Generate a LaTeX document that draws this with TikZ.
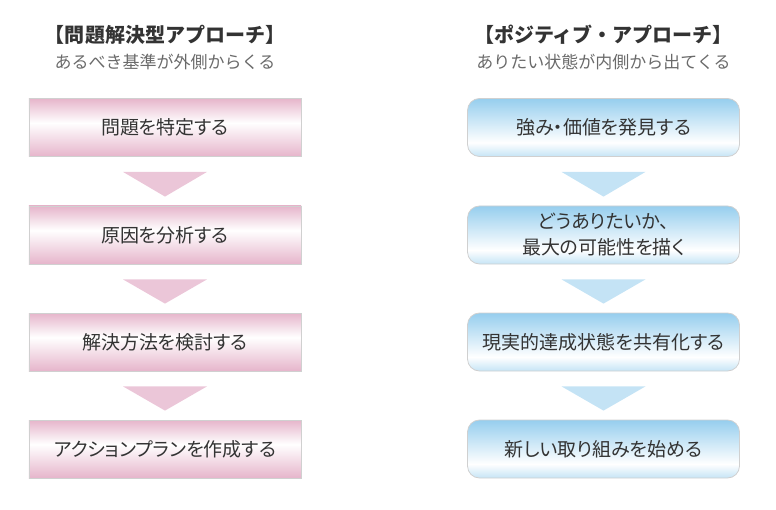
\documentclass[tikz,border=0pt]{standalone}
\usepackage{fontspec}
\setmainfont{Noto Sans CJK JP}
\newfontfamily\boxfont[RawFeature=+palt]{Noto Sans CJK JP}
\usetikzlibrary{calc}
\definecolor{pinkD}{HTML}{E6B5CB}
\definecolor{pinkTri}{HTML}{EBC6D8}
\definecolor{blueD}{HTML}{96CEEE}
\definecolor{blueTri}{HTML}{C4E3F5}
\definecolor{frame}{HTML}{D0D0D0}
\definecolor{ink}{HTML}{333333}
\definecolor{subink}{HTML}{6A6A6A}
\pgfdeclareverticalshading{pinkbar}{100bp}{color(0bp)=(pinkD); color(25bp)=(pinkD); color(54bp)=(white); color(75bp)=(pinkD); color(100bp)=(pinkD)}
\pgfdeclareverticalshading{bluebar}{100bp}{color(0bp)=(blueD!55); color(25bp)=(blueD!55); color(37bp)=(white); color(75bp)=(blueD); color(100bp)=(blueD)}

\begin{document}
\begin{tikzpicture}[x=1bp,y=-1bp,
    title/.style={text=ink,font=\fontsize{20bp}{24bp}\selectfont\bfseries},
    subtitle/.style={text=subink,font=\fontsize{17bp}{20bp}\selectfont},
    pinkbox/.style={draw=frame,line width=0.8bp,shading=pinkbar,minimum width=272bp,minimum height=58bp,
      inner sep=0pt,text=ink,align=center,font=\boxfont\fontsize{19bp}{26bp}\selectfont},
    bluebox/.style={pinkbox,shading=bluebar,rounded corners=12bp}]
    \useasboundingbox (0,0) rectangle (776,510);
    % left column
    \node[title]    (TL) at (165, 35) {【問題解決型アプローチ】};
    \node[subtitle] (SL) at (165, 62) {あるべき基準が外側からくる};
    \node[pinkbox] (A1) at (165, 127.5) {問題を特定する};
    \node[pinkbox] (A2) at (165, 235)   {原因を分析する};
    \node[pinkbox] (A3) at (165, 342)   {解決方法を検討する};
    \node[pinkbox] (A4) at (165, 449)   {アクションプランを作成する};
    % right column
    \node[title]    (TR) at (603.5, 35) {【ポジティブ・アプローチ】};
    \node[subtitle] (SR) at (603.5, 62) {ありたい状態が内側から出てくる};
    \node[bluebox] (B1) at (603.5, 127.5) {強み・価値を発見する};
    \node[bluebox] (B2) at (603.5, 235)   {どうありたいか、\\最大の可能性を描く};
    \node[bluebox] (B3) at (603.5, 342)   {現実的達成状態を共有化する};
    \node[bluebox] (B4) at (603.5, 449)   {新しい取り組みを始める};
    % arrows between the steps
    \foreach \a/\b in {A1/A2,A2/A3,A3/A4}
      \fill[pinkTri] ($(\a.south)+(-42,15)$) -- ($(\a.south)+(42,15)$) -- ($(\b.north)+(0,-9)$) -- cycle;
    \foreach \a/\b in {B1/B2,B2/B3,B3/B4}
      \fill[blueTri] ($(\a.south)+(-42,15)$) -- ($(\a.south)+(42,15)$) -- ($(\b.north)+(0,-9)$) -- cycle;
  \end{tikzpicture}
\end{document}
